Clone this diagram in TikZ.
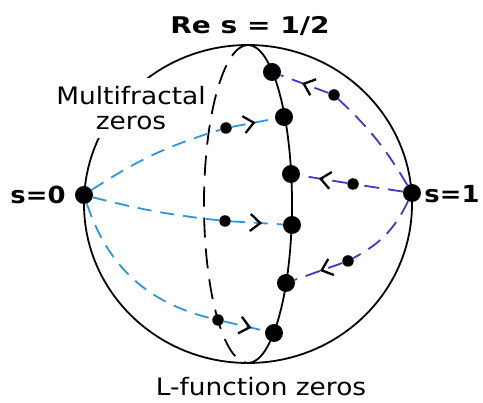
\documentclass[tikz,border=0pt]{standalone}
\usepackage{fontspec}
\usetikzlibrary{arrows.meta,decorations.markings}
\newfontfamily\labfont[FakeStretch=1.1]{DejaVu Sans}
\newfontfamily\titfont[FakeStretch=1.22]{DejaVu Sans}
\definecolor{cyanline}{RGB}{45,150,220}
\definecolor{purpline}{RGB}{75,50,200}
\begin{document}
\begin{tikzpicture}[x=1pt,y=-1pt,
  outline/.style={line width=1.8pt},
  bigdot/.style={circle,fill=black,inner sep=0pt,minimum size=18pt},
  smalldot/.style={circle,fill=black,inner sep=0pt,minimum size=11.5pt},
  cyanpath/.style={draw=cyanline,line width=1.8pt,dash pattern=on 14pt off 9pt},
  purppath/.style={draw=purpline,line width=1.8pt,dash pattern=on 15pt off 9pt},
  chev/.style={postaction={decorate},decoration={markings,mark=at position #1 with {\arrow[black,solid]{Straight Barb[length=10pt,width=17pt,line width=2.3pt]}}}},
  lab/.style={font=\labfont\fontsize{24}{25}\selectfont,inner sep=0pt},
  blab/.style={font=\labfont\bfseries\fontsize{23.5}{25}\selectfont,inner sep=0pt},
  tlab/.style={font=\titfont\bfseries\fontsize{23}{25}\selectfont,inner sep=0pt}
]
\useasboundingbox (0,0) rectangle (483,403);
\fill[white] (0,0) rectangle (483,403);
% sphere outline
\draw[outline] (248,204) circle[x radius=164pt, y radius=159pt];
\node[lab,fill=white,align=center,inner xsep=3pt,inner ysep=8pt] (mf) at (131,108) {Multifractal\\zeros};
% meridians
\draw[outline] (248,45) arc[start angle=90,end angle=-90,x radius=44pt,y radius=159pt];
\draw[outline,dash pattern=on 20pt off 11pt] (248,45) arc[start angle=90,end angle=270,x radius=44pt,y radius=159pt];
% dots
\node[bigdot] (s0) at (84,195) {};
\node[bigdot] (s1) at (412,193) {};
\node[bigdot] (z1) at (272,72) {};
\node[bigdot] (z2) at (284,117) {};
\node[bigdot] (z3) at (291,174) {};
\node[bigdot] (z4) at (292,225) {};
\node[bigdot] (z5) at (286,283) {};
\node[bigdot] (z6) at (274,333) {};
\node[smalldot] (c1) at (226,128) {};
\node[smalldot] (c2) at (225,221) {};
\node[smalldot] (c3) at (218,320) {};
\node[smalldot] (p1) at (334,95) {};
\node[smalldot] (p2) at (353,184) {};
\node[smalldot] (p3) at (348,261) {};
% cyan flows
\draw[cyanpath] (s0) to[bend left=8] (c1);
\draw[cyanpath,chev=0.55] (c1) -- (z2);
\draw[cyanpath] (s0) to[bend right=4] (c2);
\draw[cyanpath,chev=0.6] (c2) -- (z4);
\draw[cyanpath] (s0) to[bend right=29] (c3);
\draw[cyanpath,chev=0.67] (c3) -- (z6);
% purple flows
\draw[purppath] (s1) to[bend right=8] (p1);
\draw[purppath,chev=0.55] (p1) -- (z1);
\draw[purppath] (s1) -- (p2);
\draw[purppath,chev=0.6] (p2) -- (z3);
\draw[purppath] (s1) to[bend left=18] (p3);
\draw[purppath,chev=0.47] (p3) -- (z5);
% labels
\node[tlab] (title) at (250,26) {Re s = 1/2};
\node[blab] (l0) at (38,195) {s=0};
\node[blab] (l1) at (452,194) {s=1};
\node[lab] (lf) at (261,387) {L-function zeros};
\end{tikzpicture}
\end{document}
